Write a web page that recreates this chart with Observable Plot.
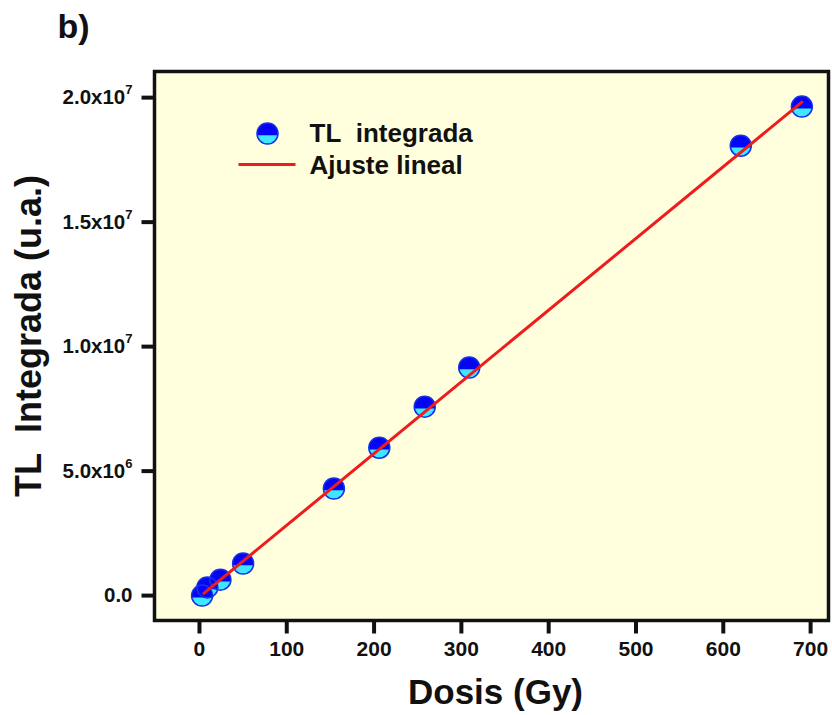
<!DOCTYPE html>
<html><head><meta charset="utf-8">
<script src="https://cdn.jsdelivr.net/npm/d3@7"></script>
<script src="https://cdn.jsdelivr.net/npm/@observablehq/plot@0.6"></script>
<style>body{margin:0;background:#fff;}</style>
</head><body><div id="chart"></div>
<script>
// ---- data ----
const dose = [3, 9, 24, 50, 154, 206, 258, 309, 620, 690];
const tlIntegrada = [0.0e6, 0.33e6, 0.64e6, 1.29e6, 4.30e6, 5.94e6, 7.59e6, 9.16e6, 18.07e6, 19.64e6];
const fitDose = [5, 690];
const fitTL = [0.09e6, 19.82e6];
const xTicks = [0, 100, 200, 300, 400, 500, 600, 700];
const yTicks = [0, 5e6, 1e7, 1.5e7, 2e7];
const yTickMantissa = ["0.0", "5.0x10", "1.0x10", "1.5x10", "2.0x10"];
const yTickExponent = ["", "6", "7", "7", "7"];
const legendLabels = ["TL\u00a0 integrada", "Ajuste lineal"];
const xTitle = "Dosis (Gy)";
const yTitle = "TL\u00a0 Integrada (u.a.)";
const panelLabel = "b)";

const points = dose.map((d, i) => ({dose: d, tl: tlIntegrada[i]}));
const fit = fitDose.map((d, i) => ({dose: d, tl: fitTL[i]}));

const BLUE = "#0505f5", CYAN = "#3fe6ff", EDGE = "#1530e6", RED = "#ee1c1c", INK = "#111";

const topHalf = {
  draw(ctx, size) {
    const r = Math.sqrt(size / Math.PI);
    const h = 0.17 * r;
    const a = Math.asin(h / r);
    ctx.moveTo(-r * Math.cos(a), h);
    ctx.arc(0, 0, r, Math.PI - a, 2 * Math.PI + a);
    ctx.closePath();
  }
};
const hLine = {
  draw(ctx, size) {
    const r = Math.sqrt(size / Math.PI);
    ctx.moveTo(-r, 0);
    ctx.lineTo(r, 0);
  }
};
const vLine = {
  draw(ctx, size) {
    const r = Math.sqrt(size / Math.PI);
    ctx.moveTo(0, -r);
    ctx.lineTo(0, r);
  }
};

const font = "'Liberation Sans', Arial, Helvetica, sans-serif";

const chart = Plot.plot({
  width: 832,
  height: 715,
  marginLeft: 154,
  marginRight: 4,
  marginTop: 71,
  marginBottom: 95,
  style: {fontFamily: font, fontWeight: "bold", background: "#fff", color: INK, overflow: "visible"},
  x: {domain: [-51.5, 720.5], axis: null},
  y: {domain: [-1e6, 21.05e6], axis: null},
  marks: [
    Plot.frame({fill: "#ffffde"}),
    // tick marks (outward, thick)
    Plot.dot(xTicks, {x: d => d, frameAnchor: "bottom", dy: 6.5, r: 6.5, symbol: vLine, stroke: INK, strokeWidth: 4, fill: "none"}),
    Plot.dot(yTicks, {y: d => d, frameAnchor: "left", dx: -6.5, r: 6.5, symbol: hLine, stroke: INK, strokeWidth: 4, fill: "none"}),
    // tick labels
    Plot.text(xTicks, {x: d => d, text: d => String(d), frameAnchor: "bottom", dy: 29, lineAnchor: "middle", textAnchor: "middle", fontSize: 21, fill: INK}),
    Plot.text(yTicks, {y: d => d, text: d => yTickMantissa[yTicks.indexOf(d)], frameAnchor: "left", dx: -22, lineAnchor: "middle", textAnchor: "end", fontSize: 20.5, fill: INK, className: "ytl"}),
    // data
    Plot.dot(points, {x: "dose", y: "tl", r: 10.5, fill: CYAN, stroke: "none"}),
    Plot.dot(points, {x: "dose", y: "tl", r: 10.5, fill: BLUE, stroke: "none", symbol: topHalf}),
    Plot.dot(points, {x: "dose", y: "tl", r: 10.5, fill: "none", stroke: EDGE, strokeWidth: 1.5}),
    Plot.line(fit, {x: "dose", y: "tl", stroke: RED, strokeWidth: 3}),
    Plot.frame({stroke: INK, strokeWidth: 3.5}),
    // legend
    Plot.dot([0], {frameAnchor: "top-left", dx: 113, dy: 62, r: 10.5, fill: CYAN, stroke: "none"}),
    Plot.dot([0], {frameAnchor: "top-left", dx: 113, dy: 62, r: 10.5, fill: BLUE, stroke: "none", symbol: topHalf}),
    Plot.dot([0], {frameAnchor: "top-left", dx: 113, dy: 62, r: 10.5, fill: "none", stroke: EDGE, strokeWidth: 1.5}),
    Plot.dot([0], {frameAnchor: "top-left", dx: 112.5, dy: 93, r: 28.5, fill: "none", stroke: RED, strokeWidth: 3, symbol: hLine}),
    Plot.text([legendLabels[0]], {frameAnchor: "top-left", dx: 155, dy: 62, textAnchor: "start", lineAnchor: "middle", fontSize: 26, fill: INK}),
    Plot.text([legendLabels[1]], {frameAnchor: "top-left", dx: 155, dy: 94, textAnchor: "start", lineAnchor: "middle", fontSize: 26, fill: INK}),
    // titles
    Plot.text([xTitle], {frameAnchor: "bottom", dx: 4, dy: 72, textAnchor: "middle", lineAnchor: "middle", fontSize: 35, fill: INK}),
    Plot.text([yTitle], {frameAnchor: "left", dx: -125, dy: -10, rotate: -90, textAnchor: "middle", lineAnchor: "middle", fontSize: 36, fill: INK}),
    Plot.text([panelLabel], {frameAnchor: "top-left", dx: -97, dy: -44, textAnchor: "start", lineAnchor: "middle", fontSize: 34, fill: INK})
  ]
});

// add superscript exponents to the y tick labels
chart.querySelectorAll(".ytl text").forEach(t => {
  const i = yTickMantissa.indexOf(t.textContent);
  if (i < 0 || !yTickExponent[i]) return;
  const sup = document.createElementNS("http://www.w3.org/2000/svg", "tspan");
  sup.setAttribute("font-size", "13");
  sup.setAttribute("dy", "-0.75em");
  sup.textContent = yTickExponent[i];
  t.appendChild(sup);
});
document.getElementById("chart").append(chart);
</script>
</body></html>
